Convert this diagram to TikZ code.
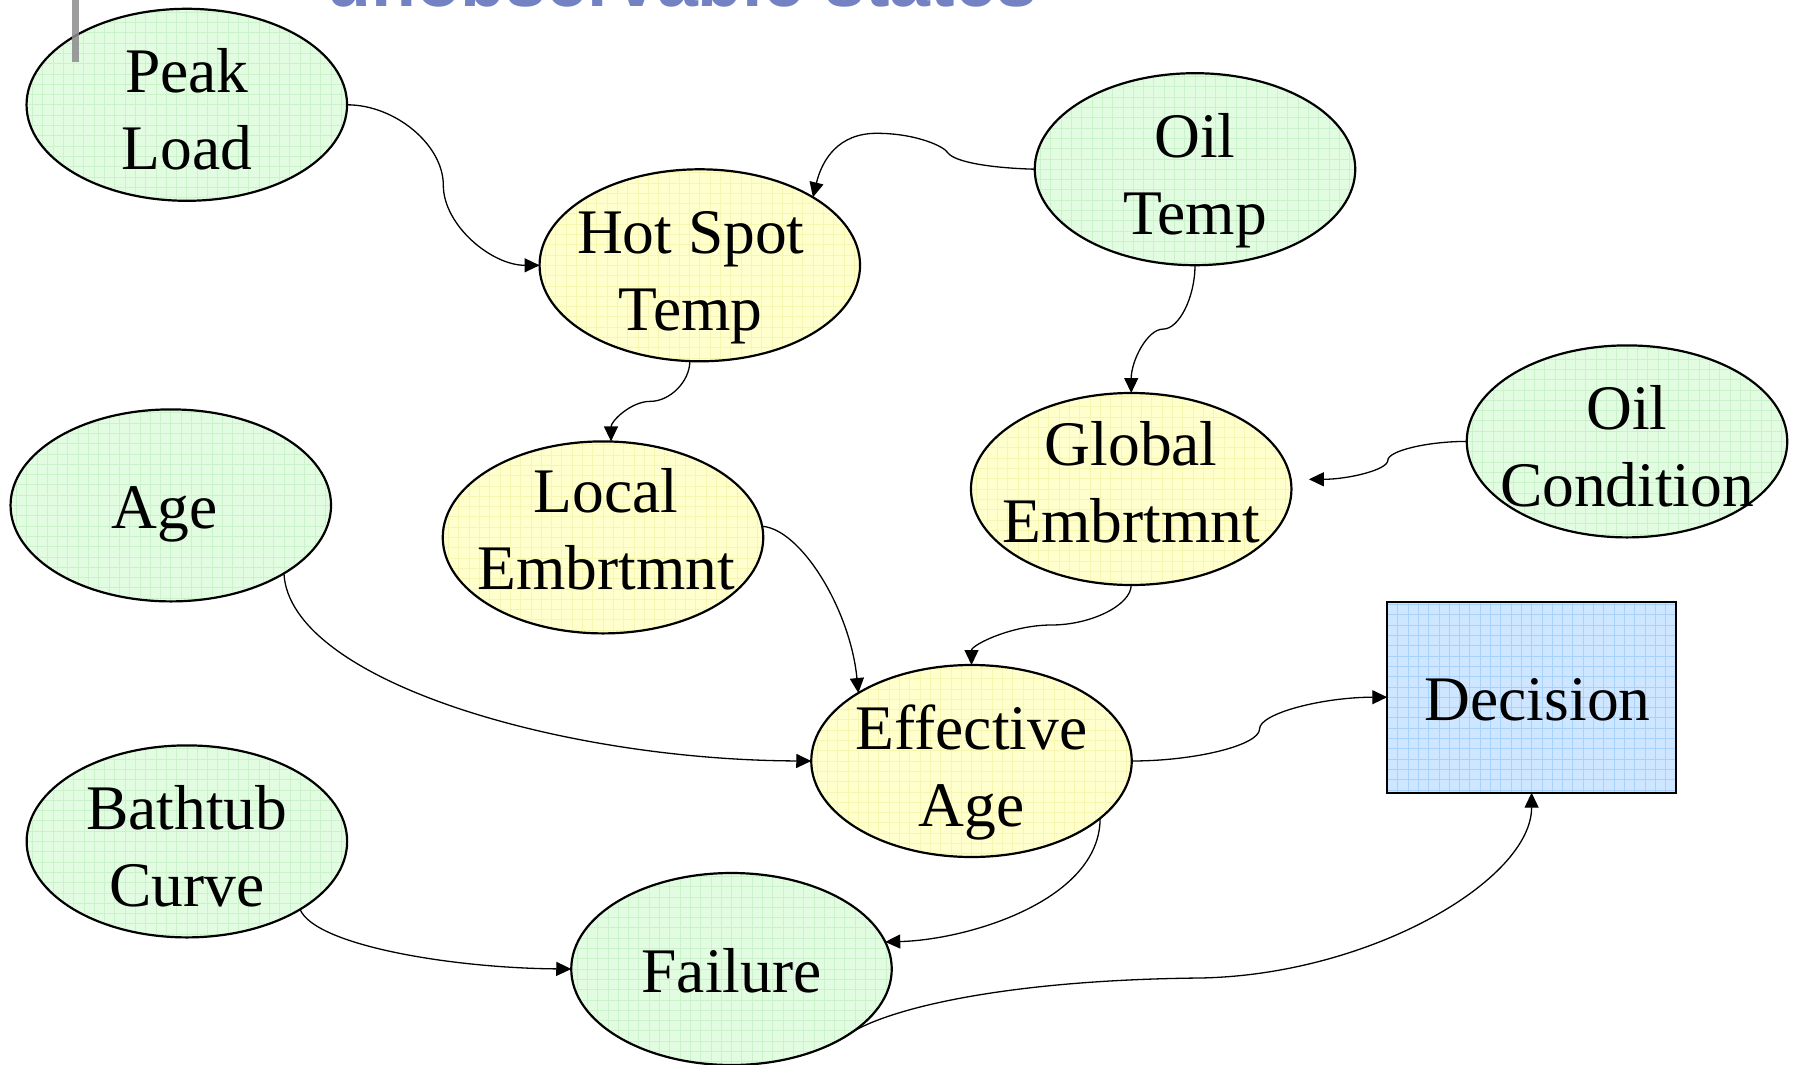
\documentclass[tikz,border=0pt]{standalone}
\usepackage{fontspec}
\setmainfont{Liberation Serif}
\newfontfamily\titlefont{Liberation Sans}
\usetikzlibrary{shapes.geometric,arrows.meta,calc}
\definecolor{gfill}{RGB}{226,252,226}
\definecolor{ggrid}{RGB}{204,242,204}
\definecolor{yfill}{RGB}{255,255,206}
\definecolor{ygrid}{RGB}{246,246,176}
\definecolor{bfill}{RGB}{206,230,255}
\definecolor{bgrid}{RGB}{166,210,252}
\definecolor{titleblue}{RGB}{115,130,195}
\definecolor{barcol}{RGB}{140,140,140}
\begin{document}
\begin{tikzpicture}[x=1pt,y=-1pt,
  ell/.style={ellipse, draw, line width=2.2pt, minimum width=320.5pt, minimum height=192pt, inner sep=0pt, outer sep=0pt},
  gridfill/.style={path picture={\draw[#1, line width=0.7pt, step=10.3pt] (path picture bounding box.south west) grid (path picture bounding box.north east);}},
  grn/.style={ell, fill=gfill, gridfill=ggrid},
  ylw/.style={ell, fill=yfill, gridfill=ygrid},
  decbox/.style={rectangle, draw, line width=2pt, fill=bfill, gridfill=bgrid, minimum width=288.7pt, minimum height=191pt, inner sep=0pt, outer sep=0pt},
  txt/.style={font=\fontsize{63.5}{77}\selectfont, align=center, inner sep=0pt},
  two/.style={txt, anchor=base, yshift=-65pt},
  one/.style={txt, anchor=base, yshift=-23.5pt},
  conn/.style={line width=1.3pt, -{Triangle[length=15pt,width=14pt]}},
  hvh/.style={to path={let \p1=(\tikztostart), \p2=(\tikztotarget), \p3=($(\p1)!0.5!(\p2)$) in
     .. controls ($(\p1)!0.5!(\x3,\y1)$) and ($(\x3,\y1)!0.5!(\p3)$) .. (\p3)
     .. controls ($(\p3)!0.5!(\x3,\y2)$) and ($(\x3,\y2)!0.5!(\p2)$) .. (\p2) \tikztonodes}},
  vhv/.style={to path={let \p1=(\tikztostart), \p2=(\tikztotarget), \p3=($(\p1)!0.5!(\p2)$) in
     .. controls ($(\p1)!0.5!(\x1,\y3)$) and ($(\x1,\y3)!0.5!(\p3)$) .. (\p3)
     .. controls ($(\p3)!0.5!(\x2,\y3)$) and ($(\x2,\y3)!0.5!(\p2)$) .. (\p2) \tikztonodes}}
]
\useasboundingbox (0,0) rectangle (1793,1065);
\clip (0,0) rectangle (1793,1065);

% title (cut off by the top edge)
\node[anchor=base west, inner sep=0pt, text=titleblue, font=\titlefont\bfseries\fontsize{73.5}{80}\selectfont] (title) at (326,7) {unobservable states};

% nodes
\node[grn] (pl) at (186.8,104.8) {};
\node[two] (plt) at (pl.center) {Peak\\Load};
\node[ylw] (hs) at (699.8,265.3) {};
\node[two, xshift=-9pt] (hst) at (hs.center) {Hot Spot\\Temp};
\node[grn] (ot) at (1195,169.2) {};
\node[two] (ott) at (ot.center) {Oil\\Temp};
\node[ylw] (ge) at (1131.2,489) {};
\node[two, yshift=12pt] (get) at (ge.center) {Global\\Embrtmnt};
\node[grn] (oc) at (1627,441.4) {};
\node[two] (oct) at (oc.center) {Oil\\Condition};
\node[grn] (age) at (170.8,505.4) {};
\node[one, xshift=-6pt] (aget) at (age.center) {Age};
\node[ylw] (le) at (603,537.4) {};
\node[two, yshift=13pt, xshift=3pt] (let) at (le.center) {Local\\Embrtmnt};
\node[ylw] (ea) at (971.5,761) {};
\node[two] (eat) at (ea.center) {Effective\\Age};
\node[grn] (bt) at (186.9,841.4) {};
\node[two] (btt) at (bt.center) {Bathtub\\Curve};
\node[grn] (fa) at (731.5,969) {};
\node[one] (fat) at (fa.center) {Failure};
\node[decbox] (dec) at (1531.6,697.2) {};
\node[one, xshift=6pt] (dect) at (dec.center) {Decision};

\coordinate (gein) at ([shift={(17.4,-9.7)}]ge.east);

% connectors
\draw[conn] (pl.east) to[hvh] (hs.west);
\draw[conn] (ot.west) .. controls (990,168) and (955,162) .. (948,153)
   .. controls (944,146) and (915,133.3) .. (876.7,133.3)
   .. controls (838,133.3) and (822,160) .. (hs.31);
\draw[conn] (ot.south) to[vhv] (ge.north);
\draw[conn] ([xshift=-10pt]hs.south) to[vhv] ([xshift=8pt]le.north);
\draw[conn] (oc.west) to[hvh] (gein);
\draw[conn] (le.4) .. controls +(39,3) and +(-8,-83) .. (ea.149);
\draw[conn] (ge.south) to[vhv] (ea.north);
\draw[conn] (age.-31) .. controls +(5.4,106.7) and +(-251,-1) .. (ea.west);
\draw[conn] (ea.east) to[hvh] (dec.west);
\draw[conn] (ea.-24) .. controls +(0,82) and +(83,-2) .. (fa.10.5);
\draw[conn] (bt.-31) .. controls +(14.8,35.7) and +(-121,-1) .. (fa.west);
\draw[conn] (fa.-31) .. controls +(36,-27) and (1000,980) .. (1200,978)
   .. controls (1370,975) and (1531.6,880) .. (dec.south);

% grey bar at the top left
\fill[barcol, opacity=0.85] (72,0) rectangle (78.6,62.5);
\end{tikzpicture}
\end{document}
